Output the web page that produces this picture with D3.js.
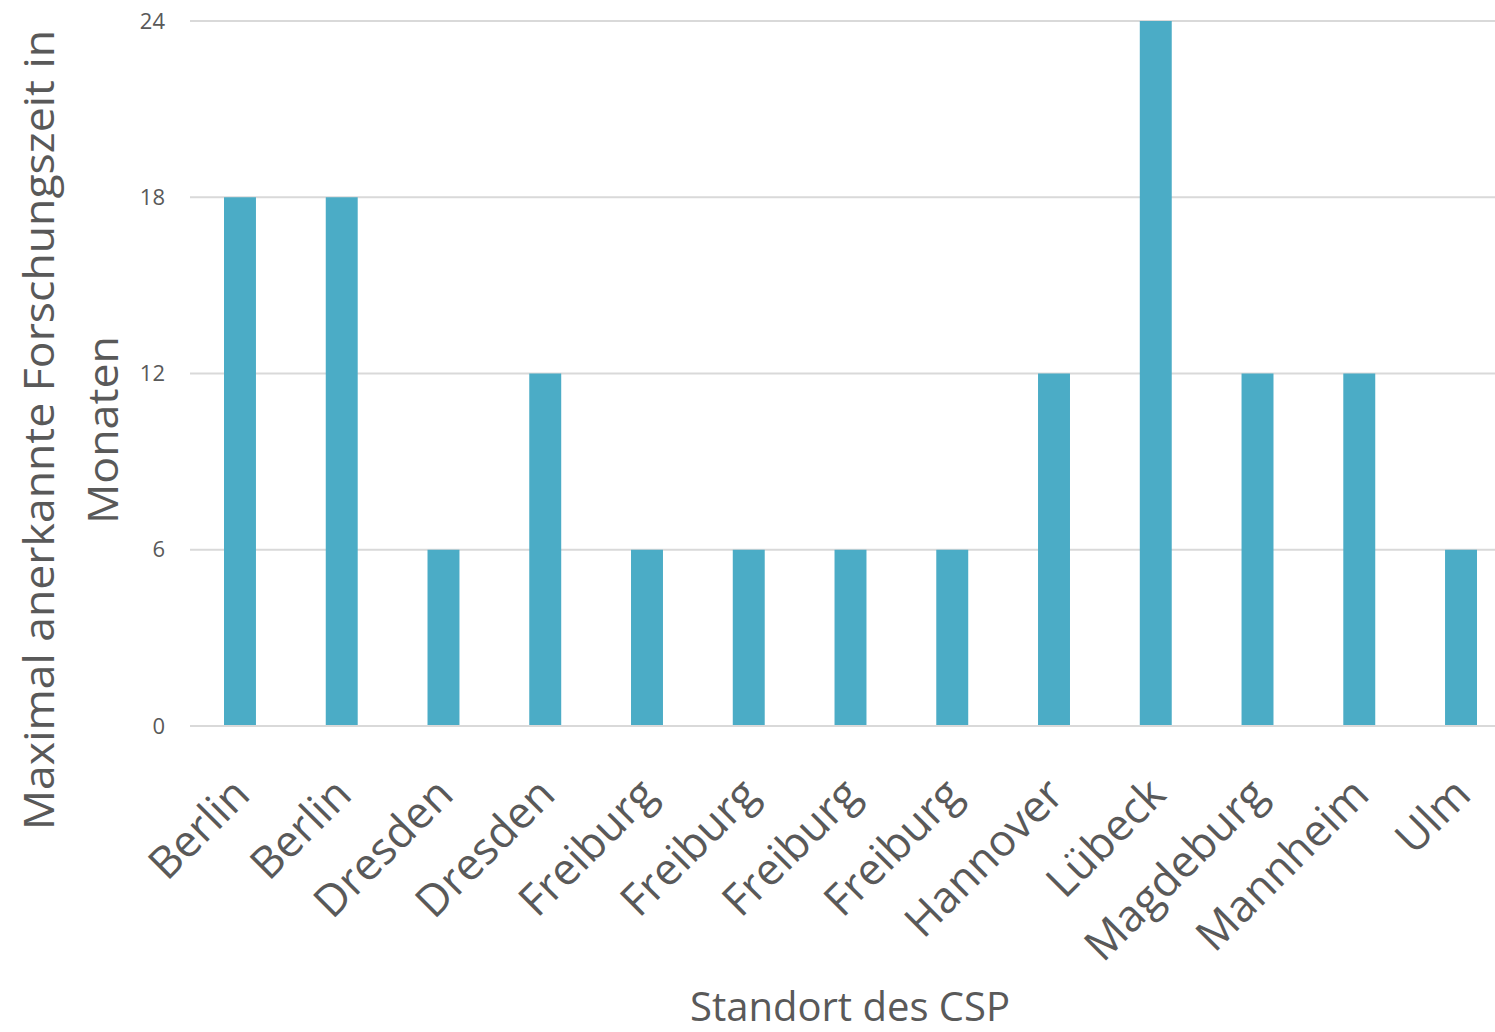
<!DOCTYPE html>
<html><head><meta charset="utf-8">
<script src="https://cdn.jsdelivr.net/npm/d3@7"></script>
<style>html,body{margin:0;padding:0;background:#fff;overflow:hidden}</style>
</head><body>
<svg id="c" width="1495" height="1032"></svg>
<script>
const categories = ["Berlin","Berlin","Dresden","Dresden","Freiburg","Freiburg","Freiburg","Freiburg","Hannover","Lübeck","Magdeburg","Mannheim","Ulm"];
const values = [18,18,6,12,6,6,6,6,12,24,12,12,6];
const yTicks = [0,6,12,18,24];
const yTitle = ["Maximal anerkannte Forschungszeit in","Monaten"];
const xTitle = "Standort des CSP";

const svg = d3.select("#c");
const font = "'Open Sans', sans-serif";
const txt = "#595959";
const x = d3.scaleBand().domain(d3.range(categories.length)).range([189.1, 1511.9]).paddingInner(0.686).paddingOuter(0.343);
const y = d3.scaleLinear().domain([0,24]).range([726,21]);

// gridlines
svg.append("g").selectAll("line").data(yTicks).join("line")
  .attr("x1",190).attr("x2",1495)
  .attr("y1",d=>y(d)).attr("y2",d=>y(d))
  .attr("stroke","#d9d9d9").attr("stroke-width",2);

// bars
svg.append("g").selectAll("rect").data(values).join("rect")
  .attr("x",(d,i)=>x(i)).attr("width",x.bandwidth())
  .attr("y",d=>y(d)).attr("height",d=>y(0)-y(d)-1)
  .attr("fill","#4BACC6");

// y tick labels
svg.append("g").selectAll("text").data(yTicks).join("text")
  .attr("x",165).attr("y",d=>y(d)).attr("dy","0.35em")
  .attr("text-anchor","end").attr("font-family",font).attr("font-size",22).attr("fill",txt)
  .text(d=>d);

// x labels
svg.append("g").selectAll("text").data(categories).join("text")
  .attr("transform",(d,i)=>`translate(${x(i)+x.bandwidth()/2+12},${797}) rotate(-45)`)
  .attr("text-anchor","end").attr("font-family",font).attr("font-size",44).attr("fill",txt)
  .text(d=>d);

// y title
const yt = svg.append("text").attr("transform","translate(0,430) rotate(-90)")
  .attr("text-anchor","middle").attr("font-family",font).attr("font-size",42).attr("fill",txt);
yt.append("tspan").attr("x",0).attr("y",54).attr("textLength",800).attr("lengthAdjust","spacingAndGlyphs").text(yTitle[0]);
yt.append("tspan").attr("x",0).attr("y",118).attr("textLength",188).attr("lengthAdjust","spacingAndGlyphs").text(yTitle[1]);

// x title
svg.append("text").attr("x",850).attr("y",1021).attr("text-anchor","middle")
  .attr("font-family",font).attr("font-size",40).attr("fill",txt).text(xTitle);
</script>
</body></html>
